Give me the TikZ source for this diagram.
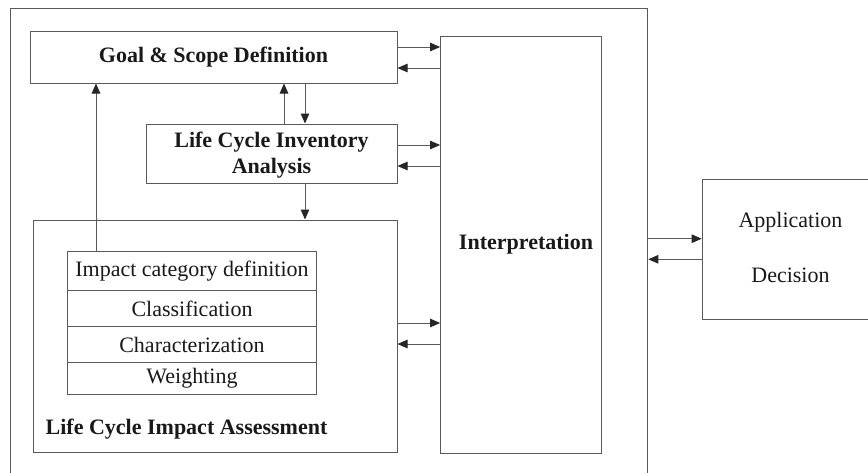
\documentclass[tikz,border=0pt]{standalone}
\usepackage{fontspec}
\setmainfont{Liberation Serif}
\usetikzlibrary{arrows.meta}
\definecolor{linec}{HTML}{5a5a5a}
\tikzset{
  box/.style={draw=linec, line width=1pt, rectangle, inner sep=0pt, text=black},
  arr/.style={draw=linec, line width=1pt, -{Triangle[length=10pt,width=8.5pt,color=black!85]}},
  lbl/.style={font=\fontsize{22}{25.6}\selectfont, text=black!90, inner sep=0pt},
  blbl/.style={font=\fontsize{22}{25.6}\selectfont\bfseries, text=black!90, inner sep=0pt, align=center},
}
\begin{document}
\begin{tikzpicture}[x=1pt,y=-1pt]
\useasboundingbox (0,0) rectangle (868,472);
\clip (0,0) rectangle (868,472);
% outer frame
\node[box, minimum width=637.3pt, minimum height=480pt, anchor=north west] (outer) at (10,8) {};
% main boxes
\node[box, minimum width=367pt, minimum height=52pt] (goal) at (213.5,57) {};
\node[blbl] (goalt) at (213.5,57) {Goal \& Scope Definition};
\node[box, minimum width=251pt, minimum height=59pt] (lci) at (271.5,153.5) {};
\node[blbl] (lcit) at (271.5,155) {Life Cycle Inventory\\Analysis};
\node[box, minimum width=364pt, minimum height=232pt] (lcia) at (215,336) {};
\node[blbl, anchor=west] (lciat) at (45.5,429) {Life Cycle Impact Assessment};
\node[box, minimum width=161.3pt, minimum height=416.3pt] (interp) at (521.3,245) {};
\node[blbl] (interpt) at (526,244) {Interpretation};
\node[box, minimum width=180pt, minimum height=140.3pt, anchor=north west] (app) at (701.7,178.7) {};
\node[lbl] (appt) at (790.5,222) {Application};
\node[lbl] (dect) at (790.5,275.5) {Decision};
% table
\node[box, minimum width=249pt, minimum height=39pt, anchor=north west] (r1) at (67,251) {};
\node[box, minimum width=249pt, minimum height=36pt, anchor=north west] (r2) at (67,290) {};
\node[box, minimum width=249pt, minimum height=36pt, anchor=north west] (r3) at (67,326) {};
\node[box, minimum width=249pt, minimum height=32pt, anchor=north west] (r4) at (67,362) {};
\node[lbl] at (r1.center) {Impact category definition};
\node[lbl] at (r2.center) {Classification};
\node[lbl] at (r3.center) {Characterization};
\node[lbl] at (r4.center) {Weighting};
% horizontal arrows to/from interpretation
\draw[arr] (goal.east |- 0,47) -- (interp.west |- 0,47);
\draw[arr] (interp.west |- 0,68) -- (goal.east |- 0,68);
\draw[arr] (lci.east |- 0,145) -- (interp.west |- 0,145);
\draw[arr] (interp.west |- 0,166) -- (lci.east |- 0,166);
\draw[arr] (lcia.east |- 0,323) -- (interp.west |- 0,323);
\draw[arr] (interp.west |- 0,344) -- (lcia.east |- 0,344);
\draw[arr] (outer.east |- 0,238.7) -- (app.west |- 0,238.7);
\draw[arr] (app.west |- 0,259.3) -- (outer.east |- 0,259.3);
% vertical arrows
\draw[arr] (goal.south -| 305,0) -- (lci.north -| 305,0);
\draw[arr] (lci.north -| 284,0) -- (goal.south -| 284,0);
\draw[arr] (lci.south -| 305,0) -- (lcia.north -| 305,0);
\draw[arr] (r1.north -| 96,0) -- (goal.south -| 96,0);
\end{tikzpicture}
\end{document}
